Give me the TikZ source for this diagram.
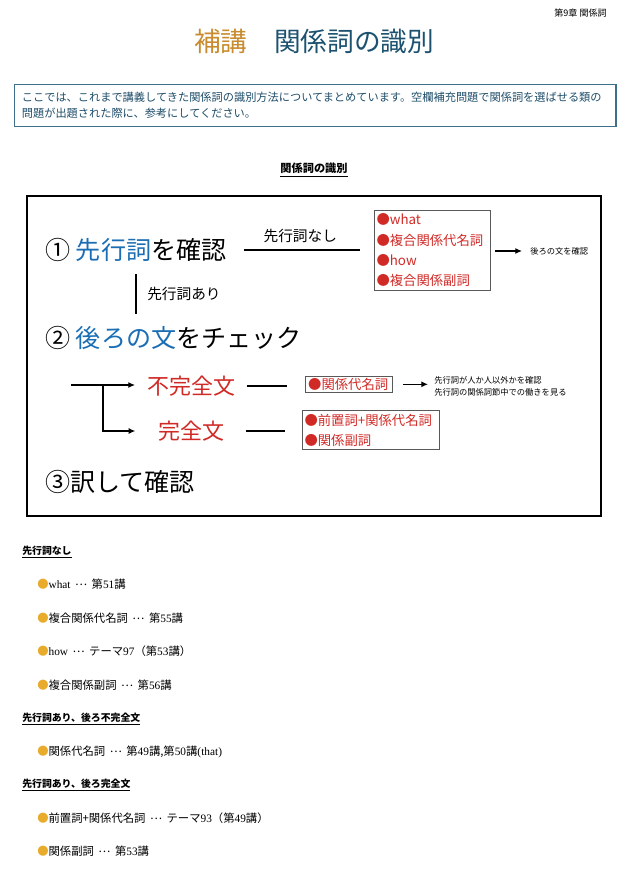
\documentclass[tikz,border=0pt]{standalone}
\usepackage{fontspec}
\setmainfont{Noto Sans CJK JP}
\newfontfamily\latser{Liberation Serif}
\usetikzlibrary{arrows.meta}
\definecolor{ttl}{HTML}{1C5270}
\definecolor{org}{HTML}{C88B2E}
\definecolor{introc}{HTML}{3F6F8A}
\definecolor{introt}{HTML}{1D4C68}
\definecolor{blu}{HTML}{1B6EB4}
\definecolor{rd}{HTML}{D02A26}
\definecolor{bul}{HTML}{E8AB2C}
\newcommand{\bl}{{\color{bul}●}}
\newcommand{\myell}{\hspace{0.4em}\raisebox{0.28em}{…}\hspace{0.4em}}
\begin{document}
\begin{tikzpicture}[x=0.75pt,y=-0.75pt,
  every node/.style={inner sep=0pt},
  big/.style={anchor=west,font=\fontsize{18.8}{22}\selectfont},
  mid/.style={font=\fontsize{11}{13}\selectfont},
  half/.style={anchor=west,font=\fontsize{16.5}{19}\selectfont,text=rd},
  tiny/.style={anchor=west,font=\fontsize{6.2}{9.5}\selectfont,align=left},
  rbox/.style={draw=gray!70!black,line width=0.8pt,text=rd,align=left,
    font=\fontsize{10}{15.2}\selectfont,inner xsep=1.5pt,inner ysep=2.5pt},
  conn/.style={line width=0.9pt},
  arr/.style={line width=0.9pt,-{Latex[length=5pt,width=4.5pt]}},
  lhead/.style={anchor=west,font=\fontsize{7.4}{9}\selectfont\bfseries},
  litem/.style={anchor=west,font=\fontsize{8.5}{10}\selectfont}]
\useasboundingbox (0,0) rectangle (635,876);

% header
\node[anchor=east,font=\fontsize{6.8}{8}\selectfont] (chap) at (607,13) {第9章 関係詞};
\node[font=\fontsize{20}{24}\selectfont] (title) at (314,41) {\textcolor{org}{補講}\textcolor{ttl}{　関係詞の識別}};

% intro box
\node[draw=introc,line width=1.1pt,anchor=north west,minimum width=450.75pt,minimum height=31.5pt,
  text width=440pt,inner xsep=5.4pt,align=left,text=introt,font=\fontsize{8.4}{12}\selectfont] (intro) at (14,84)
  {ここでは、これまで講義してきた関係詞の識別方法についてまとめています。空欄補充問題で関係詞を選ばせる類の\\問題が出題された際に、参考にしてください。};

% section heading
\node[font=\fontsize{8.4}{10}\selectfont\bfseries] (sec) at (314,170) {\underline{関係詞の識別}};

% diagram frame
\draw[line width=0.8pt] (27,196) rectangle (601,516);

% step 1
\node[big] (q1) at (45,250) {① \textcolor{blu}{先行詞}を確認};
\node[rbox,text width=84pt,anchor=north west] (b1) at (374,210)
  {●what\\●複合関係代名詞\\●how\\●複合関係副詞};
\draw[conn,shorten <=12.75pt,shorten >=10.5pt] (q1.east) -- (q1.east -| b1.west)
  node[midway,above=5pt,mid] (nashi) {先行詞なし};
\node[tiny] (t1) at (530,251) {後ろの文を確認};
\draw[arr,shorten <=3pt,shorten >=6pt] (b1.east |- t1.west) -- (t1.west);

% step 1 -> 2
\coordinate (v1) at (136,274);
\coordinate (v2) at (136,314);
\draw[conn] (v1) -- (v2) node[midway,right=8pt,mid] (ari) {先行詞あり};

% step 2
\node[big] (q2) at (45,338) {② \textcolor{blu}{後ろの文}をチェック};

\node[half] (fk) at (147,386) {不完全文};
\node[half] (kz) at (158,431) {完全文};
\coordinate (br) at (71,385);
\coordinate (jn) at (103,385);
\draw[arr,shorten >=9pt] (br) -- (br -| fk.west);
\draw[arr,shorten >=17pt] (jn) |- (kz.west);

\node[rbox,anchor=north west,text width=61pt,inner xsep=2pt,inner ysep=1.2pt] (b2) at (305,376) {●関係代名詞};
\node[rbox,anchor=north west,text width=100pt] (b3) at (302,410) {●前置詞+関係代名詞\\●関係副詞};
\draw[conn,shorten <=8.25pt,shorten >=13.5pt] (fk.east) -- (fk.east -| b2.west);
\draw[conn,shorten <=15.75pt,shorten >=12.75pt] (kz.east) -- (kz.east -| b3.west);

\node[tiny] (t2) at (434,386.5) {先行詞が人か人以外かを確認\\先行詞の関係詞節中での働きを見る};
\draw[arr,shorten <=8pt,shorten >=4.5pt] (b2.east) -- (b2.east -| t2.west);

% step 3
\node[big] (q3) at (45,482) {③訳して確認};

% list
\node[lhead] (h1) at (22,552) {\underline{先行詞なし}};
\node[litem] (i1) at (37,584) {\bl{\latser what}\myell 第{\latser 51}講};
\node[litem] (i2) at (37,618) {\bl 複合関係代名詞\myell 第{\latser 55}講};
\node[litem] (i3) at (37,651) {\bl{\latser how}\myell テーマ{\latser 97}（第{\latser 53}講）};
\node[litem] (i4) at (37,685) {\bl 複合関係副詞\myell 第{\latser 56}講};
\node[lhead] (h2) at (22,719) {\underline{先行詞あり、後ろ不完全文}};
\node[litem] (i5) at (37,752) {\bl 関係代名詞\myell 第{\latser 49}講,第{\latser 50}講{\latser (that)}};
\node[lhead] (h3) at (22,785) {\underline{先行詞あり、後ろ完全文}};
\node[litem] (i6) at (37,818) {\bl 前置詞+関係代名詞\myell テーマ{\latser 93}（第{\latser 49}講）};
\node[litem] (i7) at (37,851) {\bl 関係副詞\myell 第{\latser 53}講};
\end{tikzpicture}
\end{document}
